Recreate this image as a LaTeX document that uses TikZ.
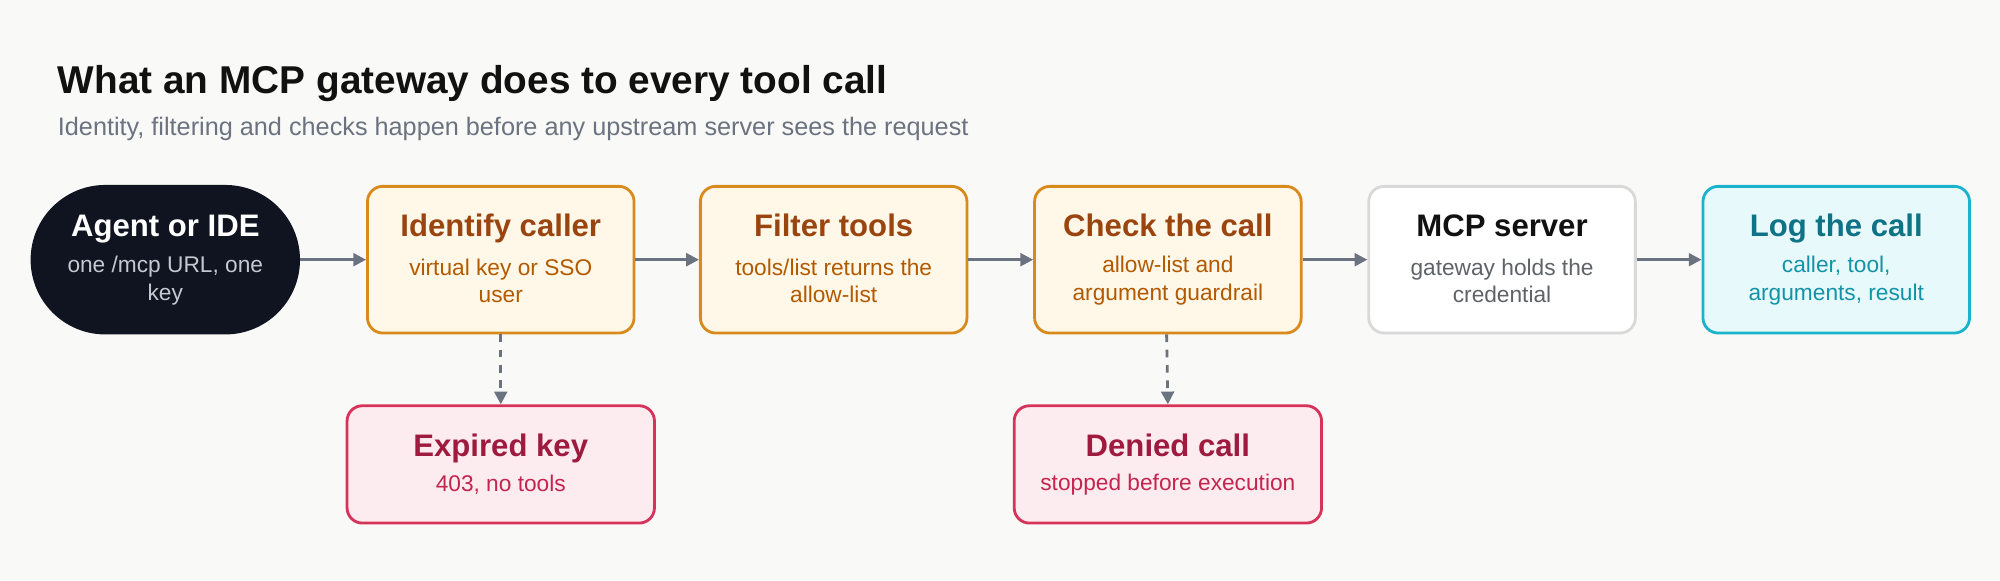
\documentclass[tikz,border=0pt]{standalone}
\usepackage{fontspec}
\setmainfont{Liberation Sans}
\usetikzlibrary{arrows.meta}
\definecolor{bg}{HTML}{F9F9F7}
\definecolor{ink}{HTML}{111111}
\definecolor{sub}{HTML}{6B7280}
\definecolor{agentbg}{HTML}{0F1420}
\definecolor{agentsub}{HTML}{C4C8D0}
\definecolor{orfill}{HTML}{FFF7E8}
\definecolor{ordraw}{HTML}{D98A1C}
\definecolor{ortitle}{HTML}{9A4510}
\definecolor{orsub}{HTML}{B35A00}
\definecolor{svdraw}{HTML}{D9D9D9}
\definecolor{svsub}{HTML}{5F6368}
\definecolor{cyfill}{HTML}{E8F9FC}
\definecolor{cydraw}{HTML}{1BB3CC}
\definecolor{cytitle}{HTML}{0F7285}
\definecolor{cysub}{HTML}{1293A8}
\definecolor{rdfill}{HTML}{FDECEF}
\definecolor{rddraw}{HTML}{D6325A}
\definecolor{rdtitle}{HTML}{9E1A3E}
\definecolor{rdsub}{HTML}{C42450}
\definecolor{arr}{HTML}{6B7280}
\begin{document}
\begin{tikzpicture}[x=0.5pt,y=-0.5pt,
  box/.style={rounded corners=6pt,line width=1.1pt,minimum width=104.5pt,minimum height=57.5pt,anchor=north west,inner sep=0pt},
  orb/.style={box,fill=orfill,draw=ordraw},
  rdb/.style={box,fill=rdfill,draw=rddraw,minimum width=120.5pt,minimum height=46pt},
  ttl/.style={font=\bfseries\fontsize{12.2}{14}\selectfont,text height=9pt,text depth=2.5pt,inner sep=0pt},
  sbt/.style={font=\fontsize{8.9}{10.6}\selectfont,align=center},
  flow/.style={-{Triangle[length=5pt,width=5pt]},draw=arr,line width=1.1pt},
  dflow/.style={flow,dashed}]
\fill[bg] (0,0) rectangle (1568,455);
\useasboundingbox (0,0) rectangle (1568,455);
\node[anchor=base west,font=\bfseries\fontsize{15.2}{18}\selectfont,text=ink,inner sep=0] (title) at (45,73) {What an MCP gateway does to every tool call};
\node[anchor=base west,font=\fontsize{9.9}{12}\selectfont,text=sub,inner sep=0] (subtitle) at (45,106) {Identity, filtering and checks happen before any upstream server sees the request};

\node[box,rounded corners=28.75pt,fill=agentbg,draw=agentbg] (a) at (24,145) {};
\node[box,fill=white,draw=svdraw] (m) at (1072,145) {};
\node[box,fill=cyfill,draw=cydraw] (l) at (1334,145) {};
\node[orb] (i) at (287,145) {};
\node[orb] (f) at (548,145) {};
\node[orb] (c) at (810,145) {};
\node[rdb] (e) at (271,317) {};
\node[rdb] (d) at (794,317) {};

\foreach \n/\t/\s/\tc/\sc in {a/Agent or IDE/{one /mcp URL, one\\key}/white/agentsub,
  i/Identify caller/{virtual key or SSO\\user}/ortitle/orsub,
  f/Filter tools/{tools/list returns the\\allow-list}/ortitle/orsub,
  c/Check the call/{allow-list and\\argument guardrail}/ortitle/orsub,
  m/MCP server/{gateway holds the\\credential}/ink/svsub,
  l/Log the call/{caller, tool,\\arguments, result}/cytitle/cysub}{
  \node[ttl,text=\tc] (\n t) at ([yshift=-17pt]\n.north) {\t};
  \node[sbt,text=\sc] (\n s) at ([yshift=-37.5pt]\n.north) {\s};
}
\foreach \n/\t/\s in {e/Expired key/{403, no tools}, d/Denied call/{stopped before execution}}{
  \node[ttl,text=rdtitle] (\n t) at ([yshift=-17pt]\n.north) {\t};
  \node[sbt,text=rdsub] (\n s) at ([yshift=-31.5pt]\n.north) {\s};
}
\draw[flow] (a) -- (i);
\draw[flow] (i) -- (f);
\draw[flow] (f) -- (c);
\draw[flow] (c) -- (m);
\draw[flow] (m) -- (l);
\draw[dflow] (i.south) -- (e.north -| i.south);
\draw[dflow] ([xshift=-0.5pt]c.south) -- (d.north -| c.south);
\end{tikzpicture}
\end{document}
